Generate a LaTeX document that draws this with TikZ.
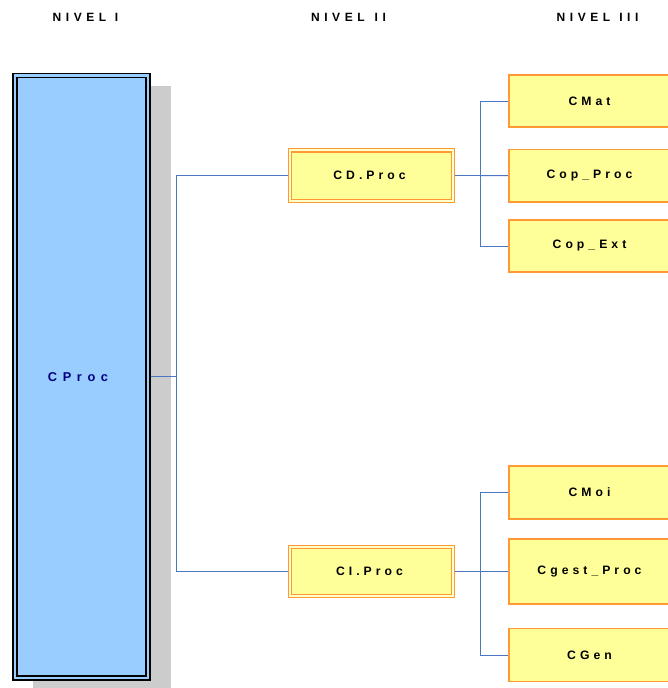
\documentclass[tikz,border=0pt]{standalone}
\usepackage{fontspec}
\setmainfont{Liberation Sans}
\newfontfamily\headfont{Liberation Sans}[LetterSpace=38]
\newfontfamily\boxfont{Liberation Sans}[LetterSpace=33]
\newfontfamily\rootfont{Liberation Sans}[LetterSpace=44]
\usetikzlibrary{backgrounds}

\definecolor{rootblue}{HTML}{99CCFF}
\definecolor{rootink}{HTML}{000080}
\definecolor{boxyellow}{HTML}{FFFF99}
\definecolor{boxorange}{HTML}{FF9933}
\definecolor{paleyellow}{HTML}{FFFFCC}
\definecolor{linkblue}{HTML}{4A78C2}
\definecolor{shadowgray}{HTML}{CCCCCC}

% gap between the word and the numeral of a level heading
\newcommand{\levelgap}[1]{\rule{#1}{0pt}}

\tikzset{
  header/.style={font=\headfont\bfseries\fontsize{12}{14}\selectfont, inner sep=0pt, anchor=west},
  rootbox/.style={draw=black, line width=1.5pt, double=rootblue, double distance=2.5pt,
    fill=rootblue, rectangle, inner sep=0pt,
    font=\rootfont\bfseries\fontsize{12.8}{14}\selectfont, text=rootink,
    execute at end node={\hspace{7pt}}},
  midbox/.style={draw=boxorange, line width=1.2pt, double=paleyellow, double distance=2pt,
    fill=boxyellow, rectangle, inner sep=0pt,
    font=\boxfont\bfseries\fontsize{12.2}{14}\selectfont,
    execute at end node={\hspace{4pt}}},
  leafbox/.style={draw=boxorange, line width=1.3pt, fill=boxyellow, rectangle, inner sep=0pt,
    font=\boxfont\bfseries\fontsize{12.2}{14}\selectfont,
    execute at end node={\hspace{4pt}}},
  link/.style={draw=linkblue, line width=1pt},
}

\begin{document}
\begin{tikzpicture}[x=1pt, y=-1pt]
  \useasboundingbox (0,0) rectangle (668,688);
  \clip (0,0) rectangle (668,688);

  % level headings
  \node[header] (h1) at (52.5,17) {NIVEL\levelgap{8.5pt}I};
  \node[header] (h2) at (310.9,17) {NIVEL\levelgap{10pt}II};
  \node[header] (h3) at (556.5,17) {NIVEL\levelgap{9pt}III};

  % level I
  \node[rootbox, minimum width=133pt, minimum height=602.5pt] (cproc) at (81.5,376.75) {CProc};

  % level II
  \node[midbox, minimum width=163pt, minimum height=50.4pt] (cdproc) at (371.5,175.5) {CD.Proc};
  \node[midbox, minimum width=163pt, minimum height=49pt] (ciproc) at (371.5,571.5) {CI.Proc};

  % level III
  \node[leafbox, minimum width=165pt, minimum height=52pt] (cmat) at (591.5,101) {CMat};
  \node[leafbox, minimum width=165pt, minimum height=52.5pt] (copproc) at (591.5,175.75) {Cop\_Proc};
  \node[leafbox, minimum width=165pt, minimum height=52pt] (copext) at (591.5,246) {Cop\_Ext};
  \node[leafbox, minimum width=165pt, minimum height=53pt] (cmoi) at (591.5,492.5) {CMoi};
  \node[leafbox, minimum width=165pt, minimum height=65pt] (cgest) at (591.5,571.5) {Cgest\_Proc};
  \node[leafbox, minimum width=165pt, minimum height=53pt] (cgen) at (591.5,655) {CGen};

  % junction points of the tree
  \coordinate (j0) at (176,376.75);
  \coordinate (j1) at (480,175.5);
  \coordinate (j2) at (480,571.5);

  \begin{pgfonlayer}{background}
    % drop shadow of the level I box
    \fill[shadowgray] (33,86) rectangle (171,700);
    % connectors
    \draw[link] (cproc.east) -- (j0);
    \draw[link] (j0) |- (cdproc.west);
    \draw[link] (j0) |- (ciproc.west);
    \draw[link] (cdproc.east) -- (j1);
    \draw[link] (j1) |- (cmat.west);
    \draw[link] (j1) -- (copproc.west);
    \draw[link] (j1) |- (copext.west);
    \draw[link] (ciproc.east) -- (j2);
    \draw[link] (j2) |- (cmoi.west);
    \draw[link] (j2) -- (cgest.west);
    \draw[link] (j2) |- (cgen.west);
  \end{pgfonlayer}
\end{tikzpicture}
\end{document}
